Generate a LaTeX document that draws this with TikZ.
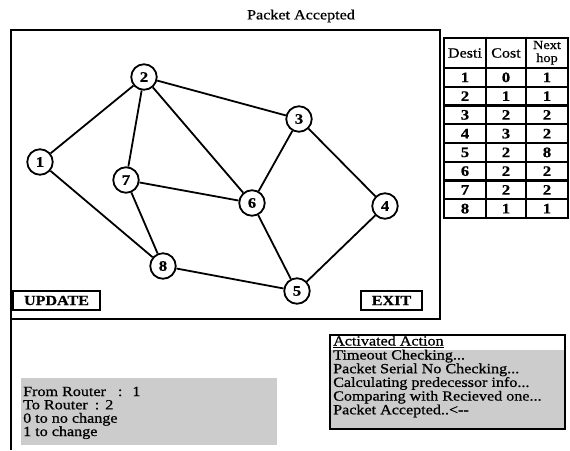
\documentclass[tikz,border=0pt]{standalone}
\usepackage{fontspec}
\setmainfont{Liberation Serif}[FakeStretch=1.15,FakeBold=0.8]
\definecolor{panelgray}{RGB}{204,204,204}
\tikzset{
  frameline/.style={line width=2pt},
  router/.style={circle, draw, line width=1.8pt, minimum size=25.5pt, inner sep=0pt, font=\fontsize{14.5}{14}\selectfont\bfseries},
  link/.style={line width=1.8pt},
  button/.style={draw, line width=2.4pt, inner sep=0pt, font=\fontsize{14}{14}\selectfont\bfseries},
  txt/.style={anchor=base west, inner sep=0pt, font=\fontsize{14}{14}\selectfont},
  cell/.style={inner sep=0pt, font=\fontsize{14.5}{14}\selectfont\bfseries},
  head/.style={inner sep=0pt, font=\fontsize{14}{14}\selectfont},
  smallhead/.style={inner sep=0pt, font=\fontsize{12.5}{12}\selectfont},
  grid/.style={line width=2.2pt},
}
\begin{document}
\begin{tikzpicture}[x=1pt,y=-1pt]
\useasboundingbox (0,0) rectangle (570,450);
% title
\node[head] (title) at (301,16) {Packet Accepted};
% frame
\draw[frameline] (11,450) -- (11,30) -- (440,30) -- (440,319) -- (11,319);
% routers
\node[router] (n1) at (40,162) {1};
\node[router] (n2) at (144,77) {2};
\node[router] (n3) at (299,119) {3};
\node[router] (n4) at (385,206) {4};
\node[router] (n5) at (297,291) {5};
\node[router] (n6) at (252,203) {6};
\node[router] (n7) at (126,180) {7};
\node[router] (n8) at (163,266) {8};
\foreach \a/\b in {n1/n2,n1/n8,n2/n7,n2/n6,n2/n3,n3/n6,n3/n4,n7/n6,n7/n8,n6/n5,n8/n5,n4/n5}
  \draw[link] (\a) -- (\b);
% buttons
\node[button, minimum width=87pt, minimum height=19pt] (upd) at (56.5,300.5) {UPDATE};
\node[button, minimum width=61pt, minimum height=19pt] (ext) at (391.5,300.5) {EXIT};
% table
\draw[line width=2.6pt] (444,38) rectangle (568,218);
\draw[grid] (444,68) -- (568,68);
\foreach \i in {1,...,7}
  \draw[grid] (444,{68+\i*18.75}) -- (568,{68+\i*18.75});
\draw[grid] (486,38) -- (486,218);
\draw[grid] (526,38) -- (526,218);
\node[head] (hd) at (465,53) {Desti};
\node[head] (hc) at (506,53) {Cost};
\node[smallhead, anchor=base] (hn) at (547,49) {Next};
\node[smallhead, anchor=base] (hh) at (547,62) {hop};
\foreach \r/\d/\c/\h in {1/1/0/1,2/2/1/1,3/3/2/2,4/4/3/2,5/5/2/8,6/6/2/2,7/7/2/2,8/8/1/1}{
  \node[cell] (d\r) at (465,{68+(\r-0.5)*18.75}) {\d};
  \node[cell] (c\r) at (506,{68+(\r-0.5)*18.75}) {\c};
  \node[cell] (h\r) at (547,{68+(\r-0.5)*18.75}) {\h};
}
% activated action box
\fill[panelgray] (331,350) rectangle (564,428);
\draw[line width=2.6pt] (330,335) rectangle (565,429);
\node[txt] (aa0) at (333,345.5) {\underline{Activated Action}};
\node[txt] (aa1) at (333,359.5) {Timeout Checking...};
\node[txt] (aa2) at (333,373.2) {Packet Serial No Checking...};
\node[txt] (aa3) at (333,386.9) {Calculating predecessor info...};
\node[txt] (aa4) at (333,400.6) {Comparing with Recieved one...};
\node[txt] (aa5) at (333,414.3) {Packet Accepted..<-{}-};
% router input box
\fill[panelgray] (21,378) rectangle (277,445);
\node[txt] (fr) at (23,396) {From Router\hspace{12pt}:\hspace{10pt}1};
\node[txt] (tr) at (23,409.3) {To Router\hspace{7pt}:\hspace{6pt}2};
\node[txt] (z) at (23,422.7) {0 to no change};
\node[txt] (o) at (23,436) {1 to change};
\end{tikzpicture}
\end{document}
